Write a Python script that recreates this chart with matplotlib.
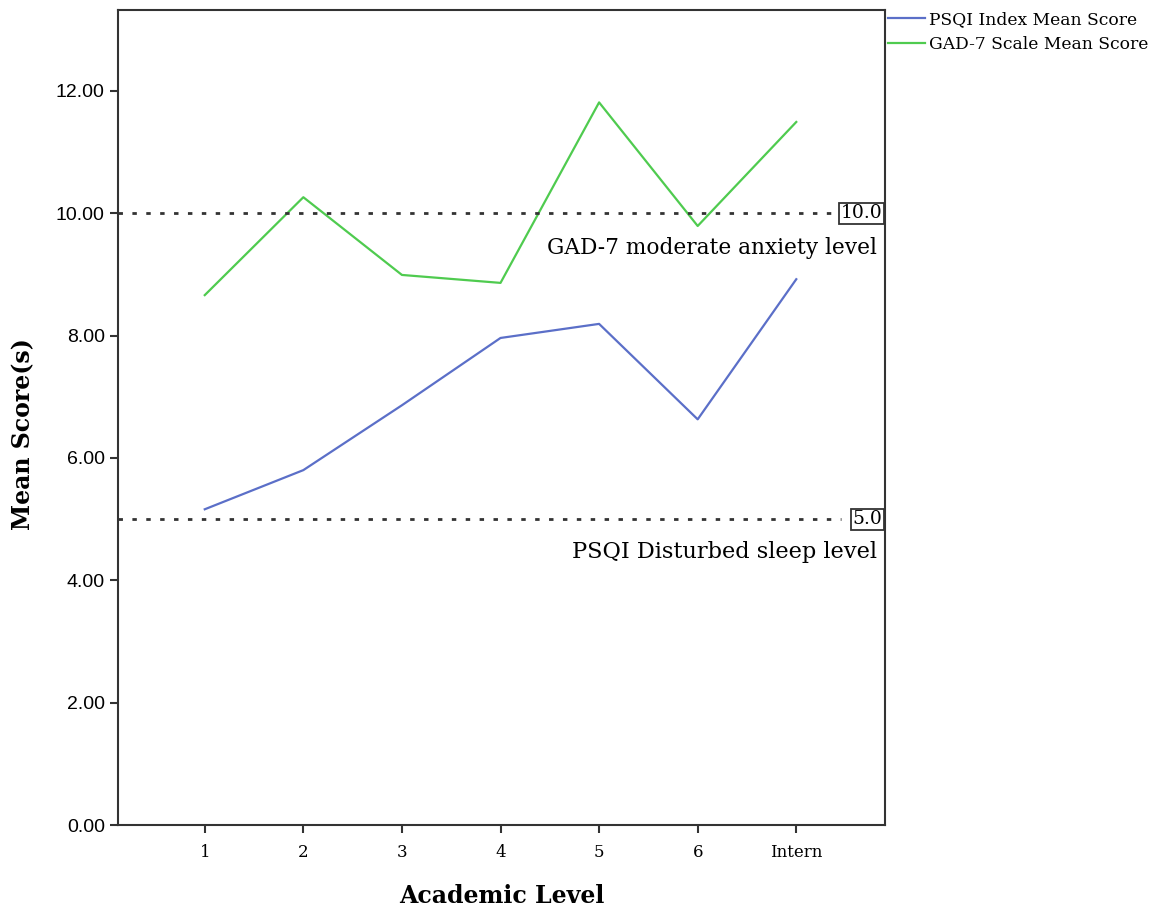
import matplotlib.pyplot as plt
import numpy as np

levels = ["1", "2", "3", "4", "5", "6", "Intern"]
psqi = [5.16, 5.80, 6.86, 7.96, 8.19, 6.63, 8.92]
gad7 = [8.66, 10.26, 8.99, 8.86, 11.81, 9.79, 11.49]
ref_gad = 10.0
ref_psqi = 5.0

plt.rcParams['font.family'] = ['DejaVu Serif', 'Liberation Serif']

fig = plt.figure(figsize=(11.6, 9.07), dpi=100)
ax = fig.add_axes([118 / 1160, 1 - 825 / 907, (885 - 118) / 1160, (825 - 10) / 907])

x = np.arange(1, len(levels) + 1)
ax.plot(x, psqi, color="#5b6fc8", lw=1.6, label="PSQI Index Mean Score")
ax.plot(x, gad7, color="#4fcb4f", lw=1.6, label="GAD-7 Scale Mean Score")

ax.set_xlim(0.12, 7.9)
ax.set_ylim(0, 13.32)

# reference lines
ax.plot([0.12, 7.35], [ref_gad, ref_gad], color="#333333", lw=2.0, ls=(0, (1.6, 3.4)))
ax.plot([0.12, 7.45], [ref_psqi, ref_psqi], color="#333333", lw=2.0, ls=(0, (1.6, 3.4)))
ax.text(7.87, ref_gad, "10.0", ha="right", va="center", fontsize=13.5,
        bbox=dict(boxstyle="square,pad=0.08", fc="white", ec="#333333", lw=1.3))
ax.text(7.87, ref_psqi, "5.0", ha="right", va="center", fontsize=13.5,
        bbox=dict(boxstyle="square,pad=0.08", fc="white", ec="#333333", lw=1.3))
ax.text(7.82, 9.43, "GAD-7 moderate anxiety level", ha="right", va="center", fontsize=15.6)
ax.text(7.82, 4.46, "PSQI Disturbed sleep level", ha="right", va="center", fontsize=16.2)

ax.set_xticks(x)
ax.set_xticklabels(levels, fontsize=12)
ax.set_yticks(np.arange(0, 13, 2))
ax.set_yticklabels([f"{v:.2f}" for v in np.arange(0, 13, 2)], fontsize=14,
                   family=['Liberation Sans', 'DejaVu Sans'])
ax.tick_params(direction="out", length=6, width=1.5, color="#333333")
ax.tick_params(axis="x", pad=8)
for s in ax.spines.values():
    s.set_linewidth(1.5)
    s.set_color("#333333")

ax.set_xlabel("Academic Level", fontsize=17, fontweight="bold", labelpad=16)
ax.set_ylabel("Mean Score(s)", fontsize=17, fontweight="bold", labelpad=12)
ax.yaxis.set_label_coords(-0.108, 0.48)

fig.legend(loc="upper left", bbox_to_anchor=(886 / 1160, 1 - 9 / 907), frameon=False,
           fontsize=12.3, handlelength=2.2, handletextpad=0.2, labelspacing=0.5,
           borderaxespad=0, borderpad=0.1)

fig.savefig("out.png", dpi=100)
